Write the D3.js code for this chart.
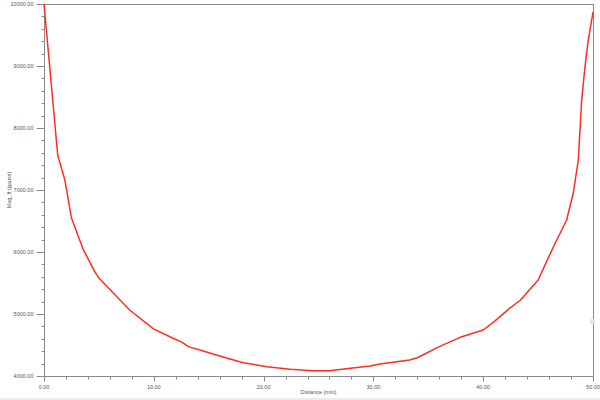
<!DOCTYPE html>
<html>
<head>
<meta charset="utf-8">
<script src="https://cdn.jsdelivr.net/npm/d3@7"></script>
<style>
  html, body { margin: 0; padding: 0; background: #fff; }
  svg { display: block; font-family: "Liberation Sans", Arial, sans-serif; }
</style>
</head>
<body>
<svg id="chart" width="600" height="400"></svg>
<script>
// Data
const distance = [0, 1.25, 1.9, 2.5, 3.6, 4.6, 5, 7.8, 10, 11.8, 12.5, 13.2, 14.2, 16, 18.15, 20.3, 22.4, 24.5, 26, 27.9, 29.7, 30.6, 33.3, 34, 36, 37.9, 40, 41, 42.4, 43.4, 45, 46.4, 47.6, 48.2, 48.66, 48.97, 49.27, 49.57, 50];
const magFt = [10000, 7560, 7160, 6550, 6030, 5690, 5580, 5065, 4755, 4605, 4550, 4470, 4420, 4323, 4215, 4150, 4108, 4085, 4085, 4124, 4161, 4194, 4258, 4295, 4473, 4624, 4742, 4876, 5092, 5226, 5548, 6085, 6516, 6947, 7484, 8452, 8989, 9419, 9870];
const xTicks = [0, 10, 20, 30, 40, 50];
const yTicks = [4000, 5000, 6000, 7000, 8000, 9000, 10000];
const xTitle = "Distance (mm)";
const yTitle = "Mag_ft (gauss)";

const svg = d3.select("#chart");
const mL = 44, mR = 593, mT = 4, mB = 376;
const x = d3.scaleLinear().domain([0, 50]).range([mL, mR]);
const y = d3.scaleLinear().domain([4000, 10000]).range([mB, mT]);

const axisColor = "#8a8a8a";
const textColor = "#555";

// frame (top and right)
svg.append("line").attr("x1", mL).attr("x2", mR).attr("y1", mT + 0.5).attr("y2", mT + 0.5)
  .attr("stroke", axisColor).attr("stroke-width", 1);
svg.append("line").attr("x1", mR + 0.5).attr("x2", mR + 0.5).attr("y1", mT).attr("y2", mB)
  .attr("stroke", axisColor).attr("stroke-width", 1);

// minor ticks
const xMinor = d3.range(0, 50.001, 2);
const yMinor = d3.range(4000, 10000.001, 200);

const gx = svg.append("g").attr("transform", `translate(0,${mB + 0.5})`);
gx.append("line").attr("x1", mL).attr("x2", mR).attr("stroke", axisColor);
gx.selectAll(".mn").data(xMinor).join("line").attr("class", "mn")
  .attr("x1", d => Math.round(x(d)) + 0.5).attr("x2", d => Math.round(x(d)) + 0.5)
  .attr("y1", 0).attr("y2", 3).attr("stroke", axisColor);
gx.selectAll(".mj").data(xTicks).join("line").attr("class", "mj")
  .attr("x1", d => Math.round(x(d)) + 0.5).attr("x2", d => Math.round(x(d)) + 0.5)
  .attr("y1", 0).attr("y2", 5).attr("stroke", axisColor);
gx.selectAll("text").data(xTicks).join("text")
  .attr("x", d => x(d)).attr("y", 12)
  .attr("text-anchor", "middle").attr("font-size", 5.5).attr("fill", textColor)
  .text(d => d.toFixed(2));

const gy = svg.append("g").attr("transform", `translate(${mL + 0.5},0)`);
gy.append("line").attr("y1", mT).attr("y2", mB).attr("stroke", axisColor);
gy.selectAll(".mn").data(yMinor).join("line").attr("class", "mn")
  .attr("y1", d => Math.round(y(d)) + 0.5).attr("y2", d => Math.round(y(d)) + 0.5)
  .attr("x1", 0).attr("x2", -3).attr("stroke", axisColor);
gy.selectAll(".mj").data(yTicks).join("line").attr("class", "mj")
  .attr("y1", d => Math.round(y(d)) + 0.5).attr("y2", d => Math.round(y(d)) + 0.5)
  .attr("x1", 0).attr("x2", -8).attr("stroke", axisColor);
gy.selectAll("text").data(yTicks).join("text")
  .attr("x", -11).attr("y", d => y(d) + 2)
  .attr("text-anchor", "end").attr("font-size", 5.5).attr("fill", textColor)
  .text(d => d.toFixed(2));

// titles
svg.append("text").attr("x", (mL + mR) / 2).attr("y", 394)
  .attr("text-anchor", "middle").attr("font-size", 5.5).attr("fill", textColor).text(xTitle);
svg.append("text").attr("transform", `translate(11,${(mT + mB) / 2}) rotate(-90)`)
  .attr("text-anchor", "middle").attr("font-size", 5.5).attr("fill", textColor).text(yTitle);

// curve
const pts = distance.map((d, i) => [d, magFt[i]]);
svg.append("path").datum(pts)
  .attr("fill", "none").attr("stroke", "#ff2d1f").attr("stroke-width", 1.5)
  .attr("stroke-linejoin", "round")
  .attr("d", d3.line().x(d => x(d[0])).y(d => y(d[1])));

// small grey marker on right edge and bottom band
svg.append("rect").attr("x", mR - 3).attr("y", 319).attr("width", 5).attr("height", 5).attr("fill", "#e4e4e4");
svg.append("rect").attr("x", 0).attr("y", 398).attr("width", 600).attr("height", 2).attr("fill", "#ececec");
</script>
</body>
</html>
